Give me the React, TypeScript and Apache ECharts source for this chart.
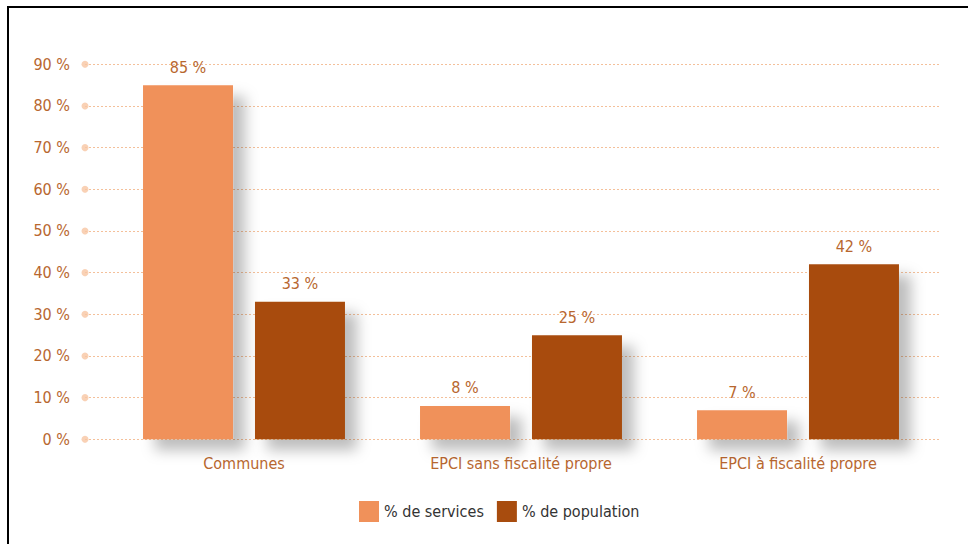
import React, { useEffect, useRef } from "react";
import * as echarts from "echarts";

const categories = ["Communes", "EPCI sans fiscalité propre", "EPCI à fiscalité propre"];
const servicesValues = [85, 8, 7];
const populationValues = [33, 25, 42];
const yTicks = [0, 10, 20, 30, 40, 50, 60, 70, 80, 90];
const seriesNames = ["% de services", "% de population"];

const FONT = "'DejaVu Sans Condensed', 'Liberation Sans Narrow', sans-serif";
const LABEL_COLOR = "#b8672f";
const SERVICES_COLOR = "#f0915a";
const POPULATION_COLOR = "#a84c0e";

export default function App() {
  const ref = useRef<HTMLDivElement>(null);
  useEffect(() => {
    if (!ref.current) return;
    const chart = echarts.init(ref.current, undefined, { renderer: "svg" });
    const top = 64.3;
    const bottom = 104.7;
    const shadow = {
      shadowBlur: 14,
      shadowOffsetX: 12,
      shadowOffsetY: 11,
      shadowColor: "rgba(0,0,0,0.26)",
    };
    const barLabel = {
      show: true,
      position: "top",
      distance: 10,
      formatter: "{c} %",
      color: LABEL_COLOR,
      fontSize: 16,
      fontFamily: FONT,
    };
    chart.setOption({
      animation: false,
      backgroundColor: "#ffffff",
      textStyle: { fontFamily: FONT },
      grid: [
        { left: 85, right: 27, top, bottom, containLabel: false },
        { left: 105.5, right: 31.5, top, bottom, containLabel: false },
      ],
      xAxis: [
        { type: "value", gridIndex: 0, min: 0, max: 1, show: false },
        {
          type: "category",
          gridIndex: 1,
          data: categories,
          axisLine: { show: false },
          axisTick: { show: false },
          axisLabel: { color: LABEL_COLOR, fontSize: 16, margin: 16, fontFamily: FONT },
        },
      ],
      yAxis: [
        {
          type: "value",
          gridIndex: 0,
          min: 0,
          max: 90,
          interval: 10,
          axisLine: { show: false },
          axisTick: { show: false },
          axisLabel: { formatter: "{value} %", color: LABEL_COLOR, fontSize: 16, margin: 15, fontFamily: FONT },
          splitLine: { lineStyle: { color: "#f4c09a", type: [2, 2], width: 1 } },
        },
        { type: "value", gridIndex: 1, min: 0, max: 90, interval: 10, show: false },
      ],
      legend: {
        data: seriesNames,
        top: 496,
        left: 354,
        itemWidth: 20,
        itemHeight: 21,
        itemGap: 13,
        icon: "rect",
        textStyle: { color: "#333333", fontSize: 16, fontFamily: FONT, padding: [6, 0, 0, 0] },
      },
      graphic: [
        { type: "line", shape: { x1: 7, y1: 7, x2: 968, y2: 7 }, style: { stroke: "#000", lineWidth: 2 } },
        { type: "line", shape: { x1: 8, y1: 6, x2: 8, y2: 544 }, style: { stroke: "#000", lineWidth: 2 } },
      ],
      series: [
        {
          type: "scatter",
          xAxisIndex: 0,
          yAxisIndex: 0,
          data: yTicks.map((t) => [0, t]),
          symbolSize: 7,
          itemStyle: { color: "#f7c6a2" },
          silent: true,
          z: 1,
        },
        {
          name: seriesNames[0],
          type: "bar",
          xAxisIndex: 1,
          yAxisIndex: 1,
          data: servicesValues,
          barWidth: 90,
          barGap: "24.4%",
          itemStyle: { color: SERVICES_COLOR, ...shadow },
          label: barLabel,
          z: 3,
        },
        {
          name: seriesNames[1],
          type: "bar",
          xAxisIndex: 1,
          yAxisIndex: 1,
          data: populationValues,
          barWidth: 90,
          itemStyle: { color: POPULATION_COLOR, ...shadow },
          label: barLabel,
          z: 3,
        },
      ],
    });
    return () => chart.dispose();
  }, []);
  return <div ref={ref} style={{ width: 968, height: 544, position: "absolute", left: 0, top: 0 }} />;
}
